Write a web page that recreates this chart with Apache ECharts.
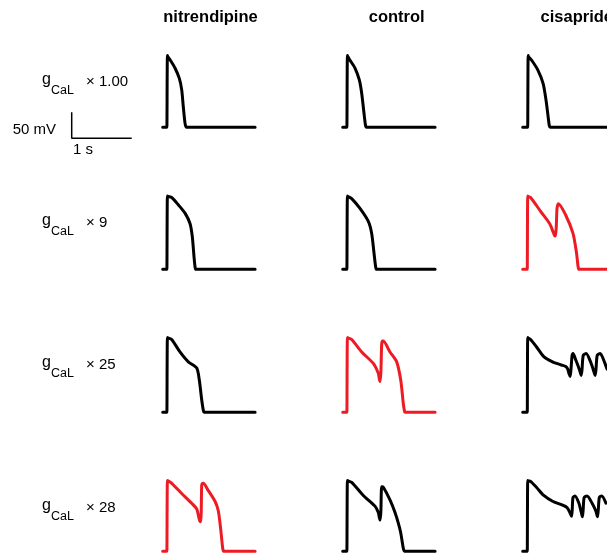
<!DOCTYPE html>
<html>
<head>
<meta charset="utf-8">
<script src="https://cdn.jsdelivr.net/npm/echarts@6/dist/echarts.min.js"></script>
<style>
  html, body { margin: 0; padding: 0; background: #fff; }
  #main { width: 607px; height: 558px; }
</style>
</head>
<body>
<div id="main"></div>
<script>
// column / row labels
const drugs = ["nitrendipine", "control", "cisapride"];
const gcalFactors = ["1.00", "9", "25", "28"];

// action potentials, [time ms, voltage mV]
const nitrendipine_x1 = [[0,-86],[70,-86],[78,-86],[78,52],[84,50],[133,42],[205,28],[277,8],[317,-14],[343,-46],[372,-78],[392,-86],[410,-86],[1540,-86]];
const control_x1 = [[0,-86],[70,-86],[78,-86],[78,52],[84,50],[122,43],[205,28],[277,5],[317,-21],[355,-59],[380,-82],[398,-86],[415,-86],[1540,-86]];
const cisapride_x1 = [[0,-86],[95,-86],[103,-86],[103,52],[110,50],[177,42],[288,24],[388,-2],[443,-34],[483,-66],[505,-83],[522,-86],[540,-86],[1600,-86]];

const nitrendipine_x9 = [[0,-86],[70,-86],[78,-86],[78,55],[88,54],[150,52],[260,38],[372,22],[455,2],[493,-23],[522,-62],[540,-82],[552,-86],[570,-86],[1540,-86]];
const control_x9 = [[0,-86],[70,-86],[78,-86],[78,55],[88,54],[150,50],[288,31],[427,6],[483,-17],[522,-55],[550,-82],[565,-86],[585,-86],[1540,-86]];
const cisapride_x9 = [[0,-86],[87,-86],[95,-86],[95,55],[105,54],[150,52],[343,25],[510,2],[577,-14],[605,-21],[622,-22],[637,-5],[650,30],[665,38],[677,40],[817,18],[955,-17],[1022,-55],[1050,-80],[1067,-86],[1085,-86],[1600,-86]];

const nitrendipine_x25 = [[0,-86],[70,-86],[78,-86],[78,58],[88,57],[150,54],[288,30],[427,11],[567,-1],[610,-24],[650,-62],[677,-82],[693,-86],[710,-86],[1540,-86]];
const control_x25 = [[0,-86],[70,-86],[78,-86],[78,58],[88,57],[150,54],[317,30],[510,8],[593,-11],[610,-22],[622,-27],[636,-10],[650,45],[665,51],[677,51],[788,30],[900,11],[967,-24],[1010,-69],[1030,-84],[1040,-86],[1058,-86],[1540,-86]];
const cisapride_x25 = [[0,-86],[87,-86],[95,-86],[95,58],[105,57],[150,54],[260,40],[400,21],[567,11],[733,5],[817,2],[855,-3],[880,-12],[900,-17],[915,-5],[938,24],[955,27],[1010,14],[1080,-5],[1110,-15],[1125,-5],[1150,24],[1205,27],[1288,11],[1343,-5],[1375,-15],[1390,-5],[1415,24],[1470,27],[1550,11],[1600,-3]];

const nitrendipine_x28 = [[0,-86],[70,-86],[78,-86],[78,60],[88,59],[133,56],[317,33],[483,13],[567,1],[600,-15],[615,-23],[633,-25],[642,-5],[650,50],[665,54],[677,54],[760,39],[872,17],[927,-3],[967,-41],[1000,-80],[1015,-86],[1035,-86],[1540,-86]];
const control_x28 = [[0,-86],[70,-86],[78,-86],[78,60],[88,59],[150,56],[343,29],[538,7],[593,-6],[610,-16],[622,-22],[636,-5],[650,47],[677,46],[788,20],[872,-6],[927,-28],[967,-48],[1010,-80],[1028,-86],[1045,-86],[1540,-86]];
const cisapride_x28 = [[0,-86],[87,-86],[95,-86],[95,60],[105,59],[150,58],[260,46],[400,29],[567,17],[733,10],[843,4],[890,-5],[927,-14],[940,0],[955,25],[993,28],[1067,13],[1110,-5],[1133,-15],[1148,0],[1167,25],[1222,28],[1317,13],[1388,-3],[1420,-15],[1435,0],[1455,25],[1500,28],[1580,13]];

// scale bar: 50 mV, 1 s
const scaleBar = [[0,50],[0,0],[1000,0]];

// which panels have the red (EAD) trace, [row, col]
const redPanels = [[1,2],[2,1],[3,0]];

const traces = [
  [nitrendipine_x1, control_x1, cisapride_x1],
  [nitrendipine_x9, control_x9, cisapride_x9],
  [nitrendipine_x25, control_x25, cisapride_x25],
  [nitrendipine_x28, control_x28, cisapride_x28]
];

// layout (px)
const PX_PER_MS = 0.06;
const PX_PER_MV = 0.52;
const colLeft = [162.7, 342.7, 522.7];
const rowBase = [127.3, 269.3, 412.3, 556.7];
const rowLabelY = [81.5, 222.5, 365, 508];
const headerX = [210.5, 396.7, 576.8];
const X_MAX = 1600, Y_MIN = -100, Y_MAX = 70, V_REST = -86;

const font = "'Liberation Sans', Arial, Helvetica, sans-serif";
const RED = "#ed1c24";

const chart = echarts.init(document.getElementById("main"));

const grid = [], xAxis = [], yAxis = [], series = [];

traces.forEach((row, r) => {
  row.forEach((data, c) => {
    const i = grid.length;
    grid.push({
      left: colLeft[c],
      top: rowBase[r] - (Y_MAX - V_REST) * PX_PER_MV,
      width: X_MAX * PX_PER_MS,
      height: (Y_MAX - Y_MIN) * PX_PER_MV
    });
    xAxis.push({ gridIndex: i, type: "value", min: 0, max: X_MAX, show: false });
    yAxis.push({ gridIndex: i, type: "value", min: Y_MIN, max: Y_MAX, show: false });
    const isRed = redPanels.some(p => p[0] === r && p[1] === c);
    series.push({
      type: "line",
      xAxisIndex: i,
      yAxisIndex: i,
      data: data,
      showSymbol: false,
      smooth: 0.25,
      silent: true,
      clip: false,
      lineStyle: { color: isRed ? RED : "#000", width: 3, cap: "round", join: "round" }
    });
  });
});

// scale bar grid
const sb = grid.length;
grid.push({ left: 71.7, top: 112.3, width: 1000 * PX_PER_MS, height: 50 * PX_PER_MV });
xAxis.push({ gridIndex: sb, type: "value", min: 0, max: 1000, show: false });
yAxis.push({ gridIndex: sb, type: "value", min: 0, max: 50, show: false });
series.push({
  type: "line",
  xAxisIndex: sb,
  yAxisIndex: sb,
  data: scaleBar,
  showSymbol: false,
  silent: true,
  clip: false,
  lineStyle: { color: "#000", width: 1.5 }
});

const graphic = [];
drugs.forEach((d, c) => {
  graphic.push({
    type: "text",
    x: headerX[c],
    y: 17,
    style: { text: d, font: "bold 16.5px " + font, fill: "#000", align: "center", verticalAlign: "middle" }
  });
});
gcalFactors.forEach((f, r) => {
  const y = rowLabelY[r];
  graphic.push({
    type: "text", x: 42, y: y - 2.4,
    style: { text: "g", font: "16px " + font, fill: "#000", align: "left", verticalAlign: "middle" }
  });
  graphic.push({
    type: "text", x: 51, y: y + 8.8,
    style: { text: "CaL", font: "12.5px " + font, fill: "#000", align: "left", verticalAlign: "middle" }
  });
  graphic.push({
    type: "text", x: 86, y: y,
    style: { text: "\u00d7 " + f, font: "15px " + font, fill: "#000", align: "left", verticalAlign: "middle" }
  });
});
graphic.push({
  type: "text", x: 12.7, y: 130,
  style: { text: "50 mV", font: "15px " + font, fill: "#000", align: "left", verticalAlign: "middle" }
});
graphic.push({
  type: "text", x: 73, y: 150,
  style: { text: "1 s", font: "15px " + font, fill: "#000", align: "left", verticalAlign: "middle" }
});

chart.setOption({
  animation: false,
  backgroundColor: "#fff",
  grid: grid,
  xAxis: xAxis,
  yAxis: yAxis,
  series: series,
  graphic: graphic
});
</script>
</body>
</html>
